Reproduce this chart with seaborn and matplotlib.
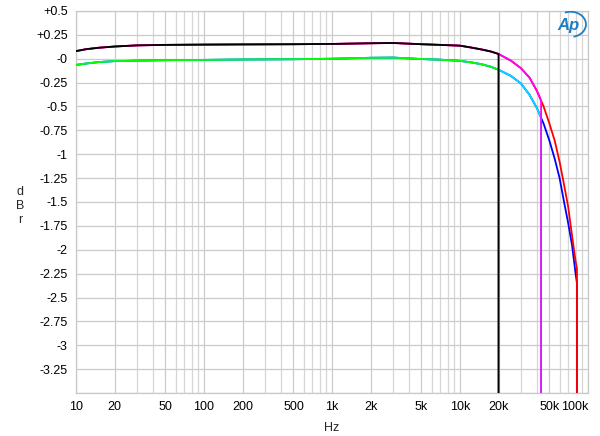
import numpy as np
import pandas as pd
import matplotlib
matplotlib.use("Agg")
import matplotlib.pyplot as plt
import seaborn as sns
from matplotlib.patches import Arc

# --- data ---
freq_flat = [10, 12, 15, 20, 30, 50, 100, 200, 500, 1000, 2000, 3000,
             5000, 7000, 10000, 12500, 15000, 17500, 20000]
upper_flat = [0.08, 0.10, 0.115, 0.128, 0.14, 0.145, 0.148, 0.15, 0.152, 0.155,
              0.162, 0.165, 0.152, 0.145, 0.137, 0.115, 0.095, 0.075, 0.05]
lower_flat = [-0.065, -0.05, -0.035, -0.025, -0.02, -0.015, -0.012, -0.008, -0.005,
              0.0, 0.01, 0.012, -0.003, -0.01, -0.022, -0.04, -0.06, -0.085, -0.115]

freq_drop20 = [20000]
drop20 = [-3.6]

freq_mid = [25000, 30000, 35000, 40000, 42500, 43000, 43000]
magenta_mid = [-0.02, -0.1, -0.2, -0.34, -0.42, -0.45, -3.6]
cyan_mid = [-0.18, -0.26, -0.38, -0.52, -0.6, -0.62, -3.6]

freq_high = [25000, 30000, 35000, 40000, 45000, 50000, 55000, 60000, 65000,
             70000, 75000, 80000, 82000, 82000]
red_high = [-0.02, -0.1, -0.2, -0.34, -0.5, -0.68, -0.86, -1.08, -1.32,
            -1.55, -1.85, -2.12, -2.2, -3.6]
blue_high = [-0.18, -0.26, -0.38, -0.52, -0.68, -0.86, -1.05, -1.25, -1.5,
             -1.72, -1.95, -2.25, -2.35, -3.6]

x_ticks = [10, 20, 50, 100, 200, 500, 1000, 2000, 5000, 10000, 20000, 50000, 100000]
x_labels = ['10', '20', '50', '100', '200', '500', '1k', '2k', '5k', '10k', '20k', '50k', '100k']
y_ticks = [0.5 - 0.25 * i for i in range(17)]
y_labels = ['+0.5', '+0.25', '-0', '-0.25', '-0.5', '-0.75', '-1', '-1.25', '-1.5',
            '-1.75', '-2', '-2.25', '-2.5', '-2.75', '-3', '-3.25', '']

# series: (name, freqs, values, colour) in drawing order
series = [
    ('blue', freq_flat + freq_high, lower_flat + blue_high, '#0000ff'),
    ('cyan', freq_flat + freq_mid, lower_flat + cyan_mid, '#00e0ff'),
    ('green', freq_flat + freq_drop20, lower_flat + drop20, '#00ff00'),
    ('red', freq_flat + freq_high, upper_flat + red_high, '#ff0000'),
    ('magenta', freq_flat + freq_mid, upper_flat + magenta_mid, '#ff00ff'),
    ('black', freq_flat + freq_drop20, upper_flat + drop20, '#000000'),
]

sns.set_style('white')
plt.rcParams['font.family'] = ['Liberation Sans', 'DejaVu Sans']

fig = plt.figure(figsize=(6.0, 4.36), dpi=100)
ax = fig.add_axes([0.1267, 0.0986, 0.8533, 0.8762])

for name, fx, fy, col in series:
    df = pd.DataFrame({'Hz': fx, 'dBr': fy})
    sns.lineplot(data=df, x='Hz', y='dBr', ax=ax, color=col, lw=1.3,
                 estimator=None, sort=False, zorder=3)

ax.set_xscale('log')
ax.set_xlim(10, 100000)
ax.set_ylim(-3.5, 0.5)

ax.set_xticks(x_ticks)
ax.set_xticklabels(x_labels)
ax.xaxis.set_minor_locator(matplotlib.ticker.LogLocator(base=10, subs=np.arange(2, 10)))
ax.xaxis.set_minor_formatter(matplotlib.ticker.NullFormatter())
ax.set_yticks(y_ticks)
ax.set_yticklabels(y_labels)
ax.yaxis.set_minor_locator(matplotlib.ticker.MultipleLocator(0.05))

ax.grid(which='major', color='#cbcbcb', lw=0.9, zorder=0)
ax.grid(which='minor', axis='x', color='#d6d6d6', lw=0.9, zorder=0)
ax.tick_params(which='major', length=0, labelsize=9, pad=6, colors='black')
ax.tick_params(axis='y', which='minor', direction='in', length=5, color='#d5d5d5', width=0.7)
ax.tick_params(axis='x', which='minor', length=0)
for sp in ax.spines.values():
    sp.set_color('#c8c8c8')
    sp.set_linewidth(0.9)

ax.get_xticklabels()[-1].set_horizontalalignment('right')

ax.set_xlabel('Hz', fontsize=9, labelpad=6)
ax.set_ylabel('d\nB\nr', fontsize=9, rotation=0, linespacing=1.25, va='center', ha='center')
ax.yaxis.set_label_coords(-0.109, 0.49)

# AP logo
ax.text(0.962, 0.963, 'Ap', transform=ax.transAxes, color='#1f7fc4', fontsize=12,
        fontstyle='italic', fontweight='bold', ha='center', va='center', zorder=5)
ax.add_patch(Arc((0.966, 0.965), 0.06, 0.066, transform=ax.transAxes, theta1=-80, theta2=110,
                 color='#1f7fc4', lw=1.3, zorder=5))

fig.savefig('out.png', dpi=100)
